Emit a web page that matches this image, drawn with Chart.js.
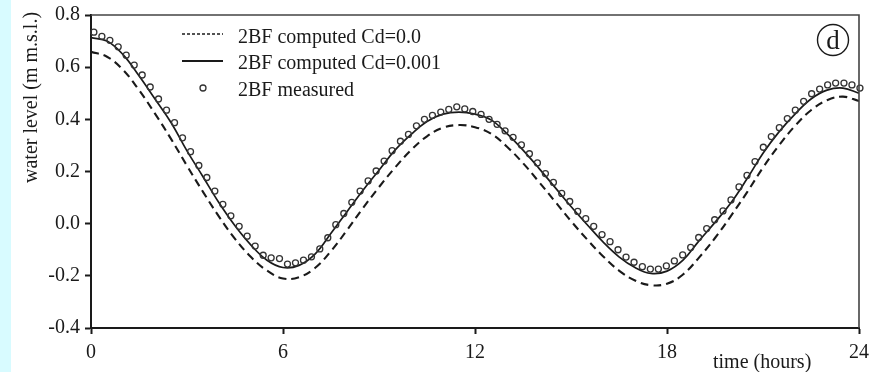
<!DOCTYPE html>
<html><head><meta charset="utf-8">
<script src="https://cdn.jsdelivr.net/npm/chart.js@4/dist/chart.umd.min.js"></script>
<style>html,body{margin:0;padding:0;background:#fff;overflow:hidden}canvas{display:block}</style>
</head><body>
<canvas id="c" width="883" height="372"></canvas>
<script>
const measuredHours = [0.09,0.34,0.59,0.85,1.10,1.35,1.60,1.85,2.11,2.36,2.61,2.86,3.11,3.37,3.62,3.87,4.12,4.37,4.63,4.88,5.13,5.38,5.63,5.89,
6.14,6.39,6.64,6.89,7.15,7.40,7.65,7.90,8.15,8.41,8.66,8.91,9.16,9.41,9.67,9.92,10.17,10.42,10.67,10.93,11.18,11.43,11.68,11.93,
12.19,12.44,12.69,12.94,13.19,13.45,13.70,13.95,14.20,14.45,14.71,14.96,15.21,15.46,15.71,15.97,16.22,16.47,16.72,16.97,17.23,17.48,17.73,17.98,
18.23,18.49,18.74,18.99,19.24,19.49,19.75,20.00,20.25,20.50,20.75,21.01,21.26,21.51,21.76,22.01,22.27,22.52,22.77,23.02,23.27,23.53,23.78,24.03];
const measuredLevel = [0.734,0.718,0.703,0.678,0.646,0.608,0.570,0.524,0.478,0.435,0.387,0.329,0.276,0.223,0.177,0.125,0.074,0.030,-0.010,-0.048,-0.086,-0.121,-0.131,-0.134,
-0.155,-0.150,-0.140,-0.127,-0.097,-0.054,-0.004,0.039,0.082,0.125,0.164,0.202,0.240,0.280,0.316,0.342,0.375,0.400,0.415,0.428,0.438,0.448,0.440,0.430,
0.419,0.400,0.381,0.356,0.331,0.302,0.268,0.233,0.192,0.158,0.116,0.085,0.047,0.019,-0.010,-0.042,-0.069,-0.100,-0.128,-0.148,-0.165,-0.174,-0.174,-0.162,
-0.143,-0.120,-0.091,-0.053,-0.019,0.015,0.049,0.091,0.141,0.185,0.238,0.293,0.334,0.368,0.403,0.435,0.469,0.498,0.516,0.532,0.539,0.539,0.532,0.520];
const computedHours = [0,0.5,1,1.5,2,2.5,3,3.5,4,4.5,5,5.5,6,6.5,7,7.5,8,8.5,9,9.5,10,10.5,11,11.5,12,12.5,13,13.5,14,14.5,15,15.5,16,16.5,17,17.5,18,18.5,19,19.5,20,20.5,21,21.5,22,22.5,23,23.5,24];
const computedCd001 = [0.713,0.700,0.648,0.567,0.478,0.388,0.279,0.180,0.080,-0.008,-0.082,-0.140,-0.168,-0.160,-0.117,-0.037,0.046,0.128,0.205,0.282,0.342,0.392,0.420,0.428,0.420,0.398,0.345,0.282,0.212,0.139,0.066,-0.003,-0.070,-0.127,-0.168,-0.191,-0.182,-0.140,-0.066,0.005,0.080,0.172,0.270,0.352,0.420,0.478,0.512,0.520,0.500];
const computedCd0 = [0.659,0.640,0.590,0.512,0.422,0.325,0.222,0.122,0.027,-0.058,-0.128,-0.180,-0.210,-0.205,-0.170,-0.105,-0.025,0.060,0.140,0.215,0.282,0.335,0.368,0.378,0.370,0.345,0.295,0.232,0.160,0.085,0.010,-0.060,-0.125,-0.180,-0.218,-0.236,-0.230,-0.195,-0.130,-0.055,0.030,0.120,0.215,0.300,0.375,0.435,0.473,0.487,0.470];
const xTickValues = [0,6,12,18,24];
const yTickValues = [-0.4,-0.2,0.0,0.2,0.4,0.6,0.8];
const legendLabels = ['2BF computed Cd=0.0','2BF computed Cd=0.001','2BF measured'];
const xTitle = 'time (hours)';
const yTitle = 'water level (m m.s.l.)';
const panelLabel = 'd';

const SERIF = '"Liberation Serif","DejaVu Serif",serif';
const INK = '#1a1a1a';

function pts(xs, ys){ return xs.map((x,i)=>({x:x,y:ys[i]})); }

const decor = {
  id:'decor',
  beforeDraw(chart){
    const c = chart.ctx;
    c.save();
    c.fillStyle = '#ffffff'; c.fillRect(0,0,chart.width,chart.height);
    c.fillStyle = '#d8fbff'; c.fillRect(0,0,11,chart.height);
    c.restore();
  },
  afterDraw(chart){
    const c = chart.ctx, a = chart.chartArea;
    c.save();
    c.strokeStyle = '#444'; c.lineWidth = 1.6;
    c.beginPath(); c.moveTo(a.left, a.top); c.lineTo(a.right, a.top); c.lineTo(a.right, a.bottom); c.stroke();
    c.font = '20px ' + SERIF; c.fillStyle = INK; c.textAlign = 'left'; c.textBaseline = 'alphabetic';
    c.strokeStyle = INK;
    c.lineWidth = 1.5; c.setLineDash([3,2]);
    c.beginPath(); c.moveTo(182,34); c.lineTo(223,34); c.stroke();
    c.setLineDash([]); c.lineWidth = 1.8;
    c.beginPath(); c.moveTo(182,61); c.lineTo(223,61); c.stroke();
    c.lineWidth = 1.3; c.strokeStyle = '#333';
    c.beginPath(); c.arc(203,88,3,0,Math.PI*2); c.stroke();
    c.fillText(legendLabels[0], 238, 42.5);
    c.fillText(legendLabels[1], 238, 69.3);
    c.fillText(legendLabels[2], 238, 96);
    c.strokeStyle = INK; c.lineWidth = 1.4;
    c.beginPath(); c.arc(833,40,15.5,0,Math.PI*2); c.stroke();
    c.font = '27px ' + SERIF; c.textAlign = 'center';
    c.fillText(panelLabel, 833, 49);
    c.font = '20px ' + SERIF; c.textAlign = 'left';
    c.fillText(xTitle, 713, 368);
    c.translate(37,183); c.rotate(-Math.PI/2);
    c.fillText(yTitle, 0, 0);
    c.restore();
  }
};

new Chart(document.getElementById('c'), {
  type:'scatter',
  data:{ datasets:[
    { label:legendLabels[2], data:pts(measuredHours, measuredLevel), showLine:false,
      pointRadius:3, pointBorderWidth:1.3, pointBorderColor:'#333', pointBackgroundColor:'rgba(0,0,0,0)', clip:false, order:0 },
    { label:legendLabels[1], data:pts(computedHours, computedCd001), showLine:true, tension:0.4,
      borderColor:INK, borderWidth:1.7, pointRadius:0, order:1 },
    { label:legendLabels[0], data:pts(computedHours, computedCd0), showLine:true, tension:0.4,
      borderColor:INK, borderWidth:2.1, borderDash:[8,5], pointRadius:0, order:2 }
  ]},
  options:{
    responsive:false, animation:false, devicePixelRatio:1,
    layout:{ padding:{ left:0, top:11, right:24, bottom:0 } },
    plugins:{ legend:{display:false}, tooltip:{enabled:false} },
    scales:{
      x:{ type:'linear', min:0, max:24,
        afterBuildTicks(s){ s.ticks = xTickValues.map(v=>({value:v})); },
        afterFit(s){ s.height = 44; },
        border:{ display:true, color:INK, width:2 },
        grid:{ display:true, drawOnChartArea:false, drawTicks:true, tickLength:6, tickWidth:2, tickColor:INK },
        ticks:{ color:INK, padding:7, font:{ family:SERIF, size:20 }, maxRotation:0, callback:v=>String(v) } },
      y:{ type:'linear', min:-0.4, max:0.8,
        afterBuildTicks(s){ s.ticks = yTickValues.map(v=>({value:v})); },
        afterFit(s){ s.width = 91; },
        border:{ display:true, color:INK, width:2 },
        grid:{ display:true, drawOnChartArea:false, drawTicks:true, tickLength:6, tickWidth:2, tickColor:INK },
        ticks:{ color:INK, padding:5, font:{ family:SERIF, size:20, lineHeight:1 }, callback:v=>Number(v).toFixed(1) } }
    }
  },
  plugins:[decor]
});
</script>
</body></html>
